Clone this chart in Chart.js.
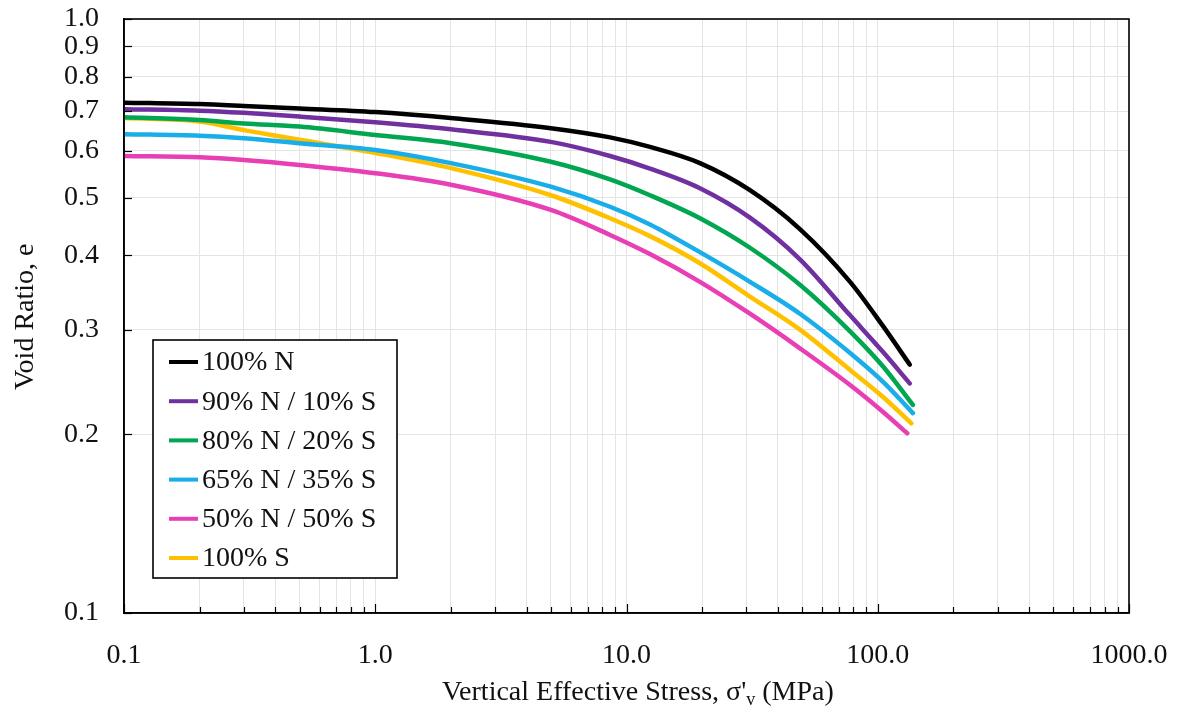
<!DOCTYPE html>
<html>
<head>
<meta charset="utf-8">
<script src="https://cdn.jsdelivr.net/npm/chart.js@4.4.1/dist/chart.umd.min.js"></script>
<style>
  html, body { margin: 0; padding: 0; background: #fff; }
  canvas { display: block; }
</style>
</head>
<body>
<canvas id="c" width="1181" height="713" style="width:1181px;height:713px"></canvas>
<script>
// ---------------- data ----------------
const seriesNames = ["100% N", "90% N / 10% S", "80% N / 20% S", "65% N / 35% S", "50% N / 50% S", "100% S"];
const seriesColors = ["#000000", "#7030A0", "#00A650", "#1AAEE8", "#E83FB4", "#FFC000"];

const stressN100   = [0.1, 0.2, 0.3, 0.5, 1, 2, 5, 8.6, 12.4, 19.6, 31, 49, 77.6, 105, 134];
const voidN100     = [0.723, 0.719, 0.714, 0.707, 0.697, 0.681, 0.655, 0.632, 0.609, 0.572, 0.515, 0.443, 0.361, 0.304, 0.262];
const stressN90    = [0.1, 0.2, 0.3, 0.5, 1, 2, 5, 8.6, 12.4, 19.6, 31, 49, 77.6, 105, 134];
const voidN90      = [0.705, 0.701, 0.695, 0.685, 0.670, 0.652, 0.621, 0.588, 0.560, 0.519, 0.463, 0.394, 0.317, 0.275, 0.2435];
const stressN80    = [0.1, 0.2, 0.3, 0.5, 1, 2, 5, 8.6, 12.4, 19.6, 31, 49, 77.6, 105, 138];
const voidN80      = [0.683, 0.676, 0.667, 0.659, 0.638, 0.618, 0.575, 0.537, 0.505, 0.462, 0.412, 0.357, 0.298, 0.260, 0.224];
const stressN65    = [0.1, 0.2, 0.3, 0.5, 1, 2, 5, 8.6, 12.4, 19.6, 31, 49, 77.6, 105, 138];
const voidN65      = [0.640, 0.636, 0.630, 0.618, 0.602, 0.572, 0.522, 0.483, 0.451, 0.405, 0.361, 0.319, 0.274, 0.245, 0.217];
const stressN50    = [0.1, 0.2, 0.3, 0.5, 1, 2, 5, 8.6, 12.4, 19.6, 31, 49, 77.6, 105, 131];
const voidN50      = [0.588, 0.585, 0.579, 0.568, 0.550, 0.526, 0.477, 0.433, 0.402, 0.361, 0.319, 0.279, 0.242, 0.218, 0.2007];
const stressS100   = [0.1, 0.2, 0.3, 0.5, 1, 2, 5, 8.6, 12.4, 19.6, 31, 49, 77.6, 105, 136];
const voidS100     = [0.681, 0.672, 0.650, 0.626, 0.595, 0.561, 0.505, 0.462, 0.431, 0.388, 0.341, 0.300, 0.2565, 0.231, 0.2086];

const xTickValues = [0.1,0.2,0.3,0.4,0.5,0.6,0.7,0.8,0.9,1,2,3,4,5,6,7,8,9,10,20,30,40,50,60,70,80,90,100,200,300,400,500,600,700,800,900,1000];
const xTickLabelValues = [0.1, 1, 10, 100, 1000];
const xTickLabels = ["0.1", "1.0", "10.0", "100.0", "1000.0"];
const yTickValues = [0.1,0.2,0.3,0.4,0.5,0.6,0.7,0.8,0.9,1.0];
const yTickLabels = ["0.1","0.2","0.3","0.4","0.5","0.6","0.7","0.8","0.9","1.0"];

const xTitleMain = "Vertical Effective Stress, σ'";
const xTitleSub = "v";
const xTitleEnd = " (MPa)";
const yTitle = "Void Ratio, e";

// ---------------- build ----------------
const allX = [stressN100, stressN90, stressN80, stressN65, stressN50, stressS100];
const allY = [voidN100, voidN90, voidN80, voidN65, voidN50, voidS100];
const FONT = '"Liberation Serif", "Times New Roman", serif';
const TEXT = '#111111';

const datasets = seriesNames.map((name, i) => ({
  label: name,
  data: allX[i].map((x, j) => ({ x: x, y: allY[i][j] })),
  borderColor: seriesColors[i],
  backgroundColor: seriesColors[i],
  borderWidth: 4.5,
  pointRadius: 0,
  showLine: true,
  cubicInterpolationMode: 'monotone',
  borderCapStyle: 'round',
  borderJoinStyle: 'round',
  fill: false
}));

const isMajorX = v => xTickLabelValues.some(m => Math.abs(m - v) / m < 1e-6);
const zeroPad = s => { s.paddingTop = 0; s.paddingBottom = 0; s.paddingLeft = 0; s.paddingRight = 0; };

const framePlugin = {
  id: 'frame',
  afterDraw(chart) {
    const ctx = chart.ctx;
    const a = chart.chartArea;
    const xs = chart.scales.x, ys = chart.scales.y;
    ctx.save();
    // inside tick marks
    ctx.strokeStyle = '#000';
    ctx.lineWidth = 1.2;
    xs.ticks.forEach(t => {
      const px = Math.round(xs.getPixelForValue(t.value)) + 0.5;
      const len = isMajorX(t.value) ? 9 : 6;
      ctx.beginPath();
      ctx.moveTo(px, a.bottom);
      ctx.lineTo(px, a.bottom - len);
      ctx.stroke();
    });
    ys.ticks.forEach(t => {
      const py = Math.round(ys.getPixelForValue(t.value)) + 0.5;
      ctx.beginPath();
      ctx.moveTo(a.left, py);
      ctx.lineTo(a.left + 8, py);
      ctx.stroke();
    });
    // frame
    ctx.lineWidth = 1.6;
    ctx.strokeRect(a.left, a.top, a.right - a.left, a.bottom - a.top);

    // legend box
    const lx = a.left + 29, ly = a.top + 321, lw = 244, lh = 238;
    ctx.fillStyle = '#fff';
    ctx.fillRect(lx, ly, lw, lh);
    ctx.lineWidth = 1.6;
    ctx.strokeStyle = '#000';
    ctx.strokeRect(lx, ly, lw, lh);
    ctx.font = '28px ' + FONT;
    ctx.textBaseline = 'middle';
    ctx.textAlign = 'left';
    chart.data.datasets.forEach((ds, i) => {
      const cy = ly + 22 + i * 39.2;
      ctx.strokeStyle = ds.borderColor;
      ctx.lineWidth = 4;
      ctx.beginPath();
      ctx.moveTo(lx + 16, cy);
      ctx.lineTo(lx + 45, cy);
      ctx.stroke();
      ctx.fillStyle = TEXT;
      ctx.fillText(ds.label, lx + 49, cy + 1);
    });

    // x-axis title with subscript
    ctx.fillStyle = TEXT;
    ctx.textBaseline = 'alphabetic';
    ctx.font = '28px ' + FONT;
    let tx = 442;
    const ty = 700;
    ctx.fillText(xTitleMain, tx, ty);
    tx += ctx.measureText(xTitleMain).width;
    ctx.font = '18px ' + FONT;
    ctx.fillText(xTitleSub, tx, ty + 5);
    tx += ctx.measureText(xTitleSub).width;
    ctx.font = '28px ' + FONT;
    ctx.fillText(xTitleEnd, tx, ty);

    // y-axis title
    ctx.save();
    ctx.translate(33, 390);
    ctx.rotate(-Math.PI / 2);
    ctx.font = '28px ' + FONT;
    ctx.fillText(yTitle, 0, 0);
    ctx.restore();
    ctx.restore();
  }
};

new Chart(document.getElementById('c'), {
  type: 'scatter',
  data: { datasets: datasets },
  options: {
    responsive: false,
    animation: false,
    devicePixelRatio: 1,
    layout: { padding: { left: 0, right: 52, top: 19, bottom: 0 } },
    plugins: { legend: { display: false }, tooltip: { enabled: false } },
    scales: {
      x: {
        type: 'logarithmic',
        min: 0.1, max: 1000,
        afterBuildTicks: s => { s.ticks = xTickValues.map(v => ({ value: v })); },
        afterFit: s => { s.height = 100; zeroPad(s); },
        ticks: {
          autoSkip: false, maxRotation: 0, minRotation: 0, padding: 26,
          color: TEXT,
          font: { family: FONT, size: 28 },
          callback: (v) => {
            const k = xTickLabelValues.findIndex(m => Math.abs(m - v) / m < 1e-6);
            return k >= 0 ? xTickLabels[k] : '';
          }
        },
        grid: { color: '#e4e4e4', lineWidth: 1, drawTicks: false },
        border: { display: true, color: '#000', width: 1.6 }
      },
      y: {
        type: 'logarithmic',
        min: 0.1, max: 1.0,
        afterBuildTicks: s => { s.ticks = yTickValues.map(v => ({ value: v })); },
        afterFit: s => { s.width = 124; zeroPad(s); },
        ticks: {
          autoSkip: false, padding: 25,
          color: TEXT,
          font: { family: FONT, size: 28 },
          callback: (v) => {
            const k = yTickValues.findIndex(m => Math.abs(m - v) < 1e-6);
            return k >= 0 ? yTickLabels[k] : '';
          }
        },
        grid: { color: '#e4e4e4', lineWidth: 1, drawTicks: false },
        border: { display: true, color: '#000', width: 1.6 }
      }
    }
  },
  plugins: [framePlugin]
});
</script>
</body>
</html>
